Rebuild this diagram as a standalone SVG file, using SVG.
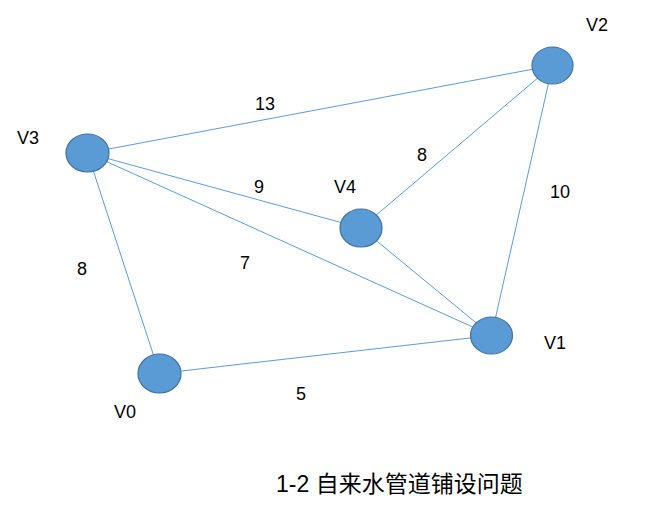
<svg xmlns="http://www.w3.org/2000/svg" width="646" height="512" viewBox="0 0 646 512">
<style>
.node{fill:#5b9bd5;stroke:#41719c;stroke-width:1.2}
.edge{stroke:#5b9bd5;stroke-width:1;fill:none}
text{font-family:"Liberation Sans","Noto Sans CJK SC",sans-serif;font-size:18px;fill:#000}
.t{font-size:23px}
</style>
<rect width="646" height="512" fill="#fff"/>
<g id="connectors">
<line class="edge" x1="87.5" y1="153" x2="552.5" y2="65.5"/>
<line class="edge" x1="87.5" y1="153" x2="361" y2="228"/>
<line class="edge" x1="87.5" y1="153" x2="491.5" y2="335.5"/>
<line class="edge" x1="87.5" y1="153" x2="159.5" y2="373.5"/>
<line class="edge" x1="361" y1="228" x2="552.5" y2="65.5"/>
<line class="edge" x1="361" y1="228" x2="491.5" y2="335.5"/>
<line class="edge" x1="552.5" y1="65.5" x2="491.5" y2="335.5"/>
<line class="edge" x1="159.5" y1="373.5" x2="491.5" y2="335.5"/>
</g>
<g id="edge-labels">
<text x="265" y="110" text-anchor="middle">13</text>
<text x="422" y="161" text-anchor="middle">8</text>
<text x="259" y="193" text-anchor="middle">9</text>
<text x="560" y="198" text-anchor="middle">10</text>
<text x="245" y="269" text-anchor="middle">7</text>
<text x="82" y="275" text-anchor="middle">8</text>
<text x="301" y="400" text-anchor="middle">5</text>
</g>
<g id="V3"><ellipse class="node" cx="87.5" cy="153" rx="21.5" ry="19"/><text x="28" y="144" text-anchor="middle">V3</text></g>
<g id="V2"><ellipse class="node" cx="552.5" cy="65.5" rx="20.5" ry="18.5"/><text x="597" y="31" text-anchor="middle">V2</text></g>
<g id="V4"><ellipse class="node" cx="361" cy="228" rx="21" ry="19"/><text x="345" y="193" text-anchor="middle">V4</text></g>
<g id="V1"><ellipse class="node" cx="491.5" cy="335.5" rx="21" ry="18.5"/><text x="555" y="349" text-anchor="middle">V1</text></g>
<g id="V0"><ellipse class="node" cx="159.5" cy="373.5" rx="21.5" ry="19.5"/><text x="125" y="418" text-anchor="middle">V0</text></g>
<text class="t" x="276" y="492">1-2 自来水管道铺设问题</text>
</svg>
